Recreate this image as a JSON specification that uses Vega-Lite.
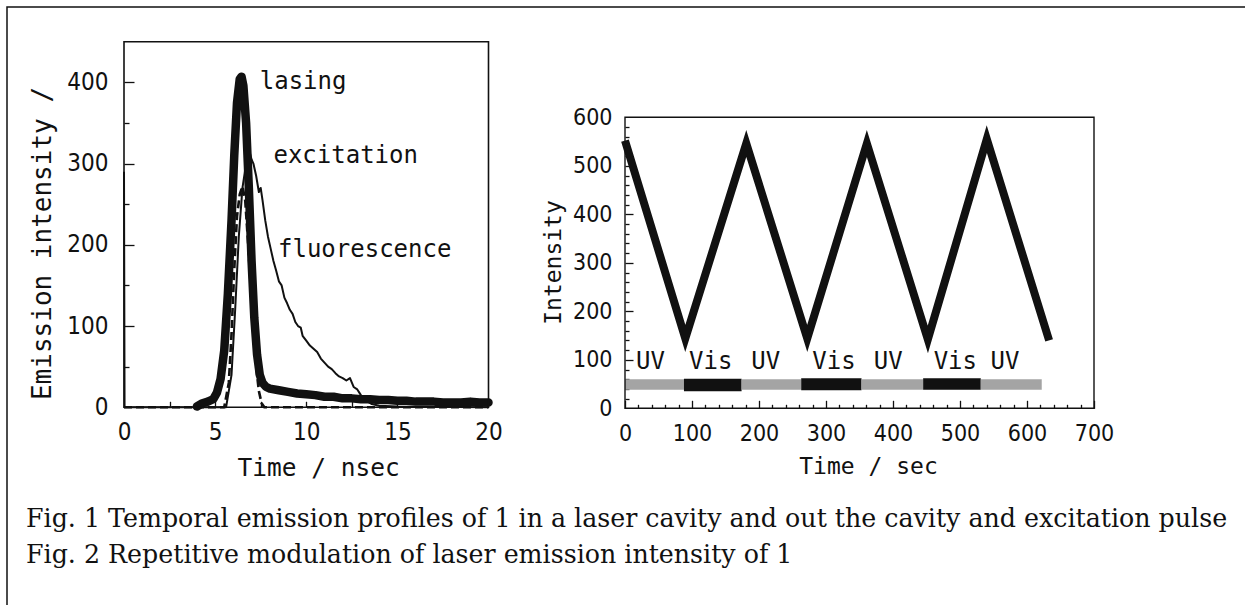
{
  "$schema": "https://vega.github.io/schema/vega-lite/v6.json",
  "width": 1238,
  "height": 598,
  "autosize": {"type": "none"},
  "padding": {"left": 7, "top": 7, "right": 0, "bottom": 0},
  "background": "white",
  "config": {
    "view": {"stroke": null},
    "axis": {"grid": false, "domain": false, "labelColor": "#111111", "titleColor": "#111111", "tickColor": "#111111", "labelFont": "DejaVu Sans Condensed", "titleFont": "DejaVu Sans Mono", "titleFontWeight": "normal", "labelFlush": false, "labelOverlap": false, "tickWidth": 1.3}
  },
  "datasets": {
    "emission": [
      {"s": "excitation", "t": 0, "v": 0}, {"s": "excitation", "t": 5.5, "v": 0}, {"s": "excitation", "t": 5.75, "v": 30}, {"s": "excitation", "t": 5.9, "v": 90}, {"s": "excitation", "t": 6.05, "v": 170}, {"s": "excitation", "t": 6.2, "v": 235}, {"s": "excitation", "t": 6.35, "v": 262}, {"s": "excitation", "t": 6.5, "v": 272}, {"s": "excitation", "t": 6.65, "v": 255}, {"s": "excitation", "t": 6.8, "v": 205}, {"s": "excitation", "t": 6.95, "v": 150}, {"s": "excitation", "t": 7.1, "v": 95}, {"s": "excitation", "t": 7.25, "v": 50}, {"s": "excitation", "t": 7.4, "v": 20}, {"s": "excitation", "t": 7.55, "v": 5}, {"s": "excitation", "t": 7.7, "v": 0}, {"s": "excitation", "t": 20, "v": 0},
      {"s": "fluorescence", "t": 0, "v": 290}, {"s": "fluorescence", "t": 0.03, "v": 0}, {"s": "fluorescence", "t": 5.6, "v": 0}, {"s": "fluorescence", "t": 5.9, "v": 40}, {"s": "fluorescence", "t": 6.1, "v": 120}, {"s": "fluorescence", "t": 6.3, "v": 210}, {"s": "fluorescence", "t": 6.5, "v": 270}, {"s": "fluorescence", "t": 6.7, "v": 300}, {"s": "fluorescence", "t": 6.85, "v": 318}, {"s": "fluorescence", "t": 7.0, "v": 305}, {"s": "fluorescence", "t": 7.1, "v": 300}, {"s": "fluorescence", "t": 7.25, "v": 285}, {"s": "fluorescence", "t": 7.4, "v": 265}, {"s": "fluorescence", "t": 7.5, "v": 270}, {"s": "fluorescence", "t": 7.6, "v": 255}, {"s": "fluorescence", "t": 7.75, "v": 230}, {"s": "fluorescence", "t": 7.9, "v": 210}, {"s": "fluorescence", "t": 8.05, "v": 195}, {"s": "fluorescence", "t": 8.2, "v": 180}, {"s": "fluorescence", "t": 8.35, "v": 168}, {"s": "fluorescence", "t": 8.5, "v": 155}, {"s": "fluorescence", "t": 8.65, "v": 150}, {"s": "fluorescence", "t": 8.8, "v": 135}, {"s": "fluorescence", "t": 8.95, "v": 128}, {"s": "fluorescence", "t": 9.1, "v": 120}, {"s": "fluorescence", "t": 9.25, "v": 115}, {"s": "fluorescence", "t": 9.4, "v": 105}, {"s": "fluorescence", "t": 9.55, "v": 100}, {"s": "fluorescence", "t": 9.7, "v": 98}, {"s": "fluorescence", "t": 9.8, "v": 88}, {"s": "fluorescence", "t": 10.0, "v": 82}, {"s": "fluorescence", "t": 10.2, "v": 76}, {"s": "fluorescence", "t": 10.4, "v": 72}, {"s": "fluorescence", "t": 10.6, "v": 68}, {"s": "fluorescence", "t": 10.8, "v": 60}, {"s": "fluorescence", "t": 11.0, "v": 55}, {"s": "fluorescence", "t": 11.2, "v": 50}, {"s": "fluorescence", "t": 11.4, "v": 47}, {"s": "fluorescence", "t": 11.6, "v": 42}, {"s": "fluorescence", "t": 11.8, "v": 38}, {"s": "fluorescence", "t": 12.0, "v": 36}, {"s": "fluorescence", "t": 12.2, "v": 33}, {"s": "fluorescence", "t": 12.4, "v": 36}, {"s": "fluorescence", "t": 12.6, "v": 25}, {"s": "fluorescence", "t": 12.8, "v": 22}, {"s": "fluorescence", "t": 13.0, "v": 15}, {"s": "fluorescence", "t": 13.3, "v": 8}, {"s": "fluorescence", "t": 13.6, "v": 4}, {"s": "fluorescence", "t": 14.0, "v": 2}, {"s": "fluorescence", "t": 15.0, "v": 1}, {"s": "fluorescence", "t": 20, "v": 0},
      {"s": "lasing", "t": 4.0, "v": 1}, {"s": "lasing", "t": 4.3, "v": 5}, {"s": "lasing", "t": 4.6, "v": 7}, {"s": "lasing", "t": 4.9, "v": 10}, {"s": "lasing", "t": 5.1, "v": 18}, {"s": "lasing", "t": 5.3, "v": 35}, {"s": "lasing", "t": 5.5, "v": 70}, {"s": "lasing", "t": 5.7, "v": 140}, {"s": "lasing", "t": 5.9, "v": 230}, {"s": "lasing", "t": 6.05, "v": 310}, {"s": "lasing", "t": 6.2, "v": 375}, {"s": "lasing", "t": 6.35, "v": 404}, {"s": "lasing", "t": 6.45, "v": 407}, {"s": "lasing", "t": 6.55, "v": 396}, {"s": "lasing", "t": 6.7, "v": 350}, {"s": "lasing", "t": 6.85, "v": 270}, {"s": "lasing", "t": 7.0, "v": 180}, {"s": "lasing", "t": 7.15, "v": 110}, {"s": "lasing", "t": 7.3, "v": 65}, {"s": "lasing", "t": 7.45, "v": 40}, {"s": "lasing", "t": 7.6, "v": 30}, {"s": "lasing", "t": 7.8, "v": 25}, {"s": "lasing", "t": 8.0, "v": 23}, {"s": "lasing", "t": 8.5, "v": 21}, {"s": "lasing", "t": 9.0, "v": 19}, {"s": "lasing", "t": 9.5, "v": 17}, {"s": "lasing", "t": 10.0, "v": 16}, {"s": "lasing", "t": 10.5, "v": 15}, {"s": "lasing", "t": 11.0, "v": 13}, {"s": "lasing", "t": 11.5, "v": 13}, {"s": "lasing", "t": 12.0, "v": 11}, {"s": "lasing", "t": 12.5, "v": 11}, {"s": "lasing", "t": 13.0, "v": 10}, {"s": "lasing", "t": 13.5, "v": 10}, {"s": "lasing", "t": 14.0, "v": 9}, {"s": "lasing", "t": 14.5, "v": 9}, {"s": "lasing", "t": 15.0, "v": 8}, {"s": "lasing", "t": 15.5, "v": 8}, {"s": "lasing", "t": 16.0, "v": 7}, {"s": "lasing", "t": 16.5, "v": 7}, {"s": "lasing", "t": 17.0, "v": 7}, {"s": "lasing", "t": 17.5, "v": 6}, {"s": "lasing", "t": 18.0, "v": 6}, {"s": "lasing", "t": 18.5, "v": 6}, {"s": "lasing", "t": 19.0, "v": 7}, {"s": "lasing", "t": 19.5, "v": 6}, {"s": "lasing", "t": 20.0, "v": 6}
    ],
    "labels1": [
      {"label": "lasing", "t": 7.45, "v": 400},
      {"label": "excitation", "t": 8.2, "v": 309},
      {"label": "fluorescence", "t": 8.45, "v": 194}
    ],
    "zigzag": [
      {"t": 0, "v": 552}, {"t": 90, "v": 144}, {"t": 181, "v": 546}, {"t": 272, "v": 144}, {"t": 361, "v": 546}, {"t": 452, "v": 142}, {"t": 540, "v": 555}, {"t": 633, "v": 140}
    ],
    "periods": [
      {"k": "UV", "start": 0, "end": 88, "lo": 38, "hi": 60},
      {"k": "Vis", "start": 88, "end": 174, "lo": 35, "hi": 61},
      {"k": "UV", "start": 174, "end": 263, "lo": 38, "hi": 60},
      {"k": "Vis", "start": 263, "end": 353, "lo": 37, "hi": 62},
      {"k": "UV", "start": 353, "end": 445, "lo": 38, "hi": 60},
      {"k": "Vis", "start": 445, "end": 531, "lo": 38, "hi": 62},
      {"k": "UV", "start": 531, "end": 622, "lo": 38, "hi": 60}
    ],
    "labels2": [
      {"label": "UV", "t": 38, "v": 95}, {"label": "Vis", "t": 128, "v": 95}, {"label": "UV", "t": 210, "v": 95},
      {"label": "Vis", "t": 312, "v": 95}, {"label": "UV", "t": 393, "v": 95}, {"label": "Vis", "t": 493, "v": 95}, {"label": "UV", "t": 567, "v": 95}
    ],
    "caption": [
      {"line": 1, "text": "Fig. 1 Temporal emission profiles of 1 in a laser cavity and out the cavity and excitation pulse"},
      {"line": 2, "text": "Fig. 2 Repetitive modulation of laser emission intensity of 1"}
    ]
  },
  "layer": [
    {
      "data": {"values": [{}]},
      "mark": {"type": "rect", "fill": "transparent", "stroke": "#111111", "strokeWidth": 1.5},
      "encoding": {
        "x": {"datum": 0, "type": "quantitative", "scale": {"domain": [0, 1], "range": [0, 1300], "nice": false, "zero": false}, "axis": null},
        "x2": {"datum": 1},
        "y": {"datum": 0, "type": "quantitative", "scale": {"domain": [0, 1], "range": [0, 700], "nice": false, "zero": false}, "axis": null},
        "y2": {"datum": 1}
      }
    },
    {
      "data": {"name": "caption"},
      "mark": {"type": "text", "align": "left", "baseline": "alphabetic", "font": "DejaVu Serif", "fontSize": 25.3, "color": "#111111"},
      "encoding": {
        "x": {"datum": 0, "type": "quantitative", "scale": {"domain": [0, 1], "range": [19, 1200], "nice": false, "zero": false}, "axis": null},
        "y": {"field": "line", "type": "quantitative", "scale": {"domain": [1, 2], "range": [520, 556], "nice": false, "zero": false}, "axis": null},
        "text": {"field": "text"}
      }
    },
    {
      "data": {"name": "emission"},
      "transform": [{"filter": "datum.s === 'fluorescence'"}],
      "mark": {"type": "line", "color": "#111111", "strokeWidth": 2, "strokeJoin": "round"},
      "encoding": {
        "x": {"field": "t", "type": "quantitative", "scale": {"domain": [0, 20], "range": [117, 481.5], "nice": false, "zero": false},
          "axis": {"orient": "bottom", "offset": -197.7, "values": [0, 5, 10, 15, 20], "ticks": false, "labelFontSize": 24, "labelPadding": 13, "title": "Time / nsec", "titleFontSize": 24.5, "titleX": 311, "titleY": 61, "titleBaseline": "middle", "titleAlign": "center"}},
        "y": {"field": "v", "type": "quantitative", "scale": {"domain": [0, 450], "range": [400.3, 34.7], "nice": false, "zero": false},
          "axis": {"orient": "left", "offset": -117, "values": [0, 100, 200, 300, 400], "ticks": false, "labelFontSize": 24, "labelPadding": 16, "title": "Emission intensity /", "titleFontSize": 26, "titleX": -82, "titleY": 236, "titleAngle": 270, "titleBaseline": "middle", "titleAlign": "center"}}
      }
    },
    {
      "data": {"name": "emission"},
      "transform": [{"filter": "datum.s === 'excitation'"}],
      "mark": {"type": "line", "color": "#111111", "strokeWidth": 2.6, "strokeDash": [8, 4], "strokeJoin": "round"},
      "encoding": {
        "x": {"field": "t", "type": "quantitative", "scale": {"domain": [0, 20], "range": [117, 481.5], "nice": false, "zero": false}, "axis": null},
        "y": {"field": "v", "type": "quantitative", "scale": {"domain": [0, 450], "range": [400.3, 34.7], "nice": false, "zero": false}, "axis": null}
      }
    },
    {
      "data": {"name": "emission"},
      "transform": [{"filter": "datum.s === 'lasing'"}],
      "mark": {"type": "line", "color": "#111111", "strokeWidth": 8.5, "strokeJoin": "round", "strokeCap": "round"},
      "encoding": {
        "x": {"field": "t", "type": "quantitative", "scale": {"domain": [0, 20], "range": [117, 481.5], "nice": false, "zero": false}, "axis": null},
        "y": {"field": "v", "type": "quantitative", "scale": {"domain": [0, 450], "range": [400.3, 34.7], "nice": false, "zero": false}, "axis": null}
      }
    },
    {
      "data": {"values": [{}]},
      "mark": {"type": "rect", "fill": "transparent", "stroke": "#111111", "strokeWidth": 1.6},
      "encoding": {
        "x": {"datum": 0, "type": "quantitative", "scale": {"domain": [0, 20], "range": [117, 481.5], "nice": false, "zero": false},
          "axis": {"orient": "bottom", "offset": -197.7, "values": [2.5, 5, 7.5, 10, 12.5, 15, 17.5], "labels": false, "tickSize": -6, "title": null}},
        "x2": {"datum": 20},
        "y": {"datum": 0, "type": "quantitative", "scale": {"domain": [0, 450], "range": [400.3, 34.7], "nice": false, "zero": false},
          "axis": {"orient": "left", "offset": -117, "values": [100, 200, 300, 400], "labels": false, "tickSize": -10, "title": null}},
        "y2": {"datum": 450}
      }
    },
    {
      "data": {"name": "labels1"},
      "mark": {"type": "text", "align": "left", "baseline": "middle", "font": "DejaVu Sans Mono", "fontSize": 24, "color": "#111111"},
      "encoding": {
        "x": {"field": "t", "type": "quantitative", "scale": {"domain": [0, 20], "range": [117, 481.5], "nice": false, "zero": false}, "axis": null},
        "y": {"field": "v", "type": "quantitative", "scale": {"domain": [0, 450], "range": [400.3, 34.7], "nice": false, "zero": false},
          "axis": {"orient": "left", "offset": -117, "values": [50, 150, 250, 350], "labels": false, "tickSize": -5, "title": null}},
        "text": {"field": "label"}
      }
    },
    {
      "data": {"name": "periods"},
      "mark": {"type": "rect"},
      "encoding": {
        "x": {"field": "start", "type": "quantitative", "scale": {"domain": [0, 700], "range": [618, 1087], "nice": false, "zero": false},
          "axis": {"orient": "bottom", "offset": -196.7, "values": [0, 100, 200, 300, 400, 500, 600, 700], "ticks": false, "labelFontSize": 23, "labelPadding": 14, "title": "Time / sec", "titleFontSize": 23, "titleX": 861, "titleY": 58, "titleBaseline": "middle", "titleAlign": "center"}},
        "x2": {"field": "end"},
        "y": {"field": "lo", "type": "quantitative", "scale": {"domain": [0, 600], "range": [401.3, 110.3], "nice": false, "zero": false},
          "axis": {"orient": "left", "offset": -618, "values": [0, 100, 200, 300, 400, 500, 600], "ticks": false, "labelFontSize": 23, "labelPadding": 13, "title": "Intensity", "titleFontSize": 23, "titleX": -72, "titleY": 255, "titleAngle": 270, "titleBaseline": "middle", "titleAlign": "center"}},
        "y2": {"field": "hi"},
        "color": {"field": "k", "type": "nominal", "scale": {"domain": ["UV", "Vis"], "range": ["#a4a4a4", "#111111"]}, "legend": null}
      }
    },
    {
      "data": {"name": "zigzag"},
      "mark": {"type": "line", "color": "#111111", "strokeWidth": 8, "strokeJoin": "miter", "strokeMiterLimit": 10},
      "encoding": {
        "x": {"field": "t", "type": "quantitative", "scale": {"domain": [0, 700], "range": [618, 1087], "nice": false, "zero": false},
          "axis": {"orient": "bottom", "offset": -196.7, "values": [0, 100, 200, 300, 400, 500, 600, 700], "labels": false, "tickSize": -8, "title": null}},
        "y": {"field": "v", "type": "quantitative", "scale": {"domain": [0, 600], "range": [401.3, 110.3], "nice": false, "zero": false},
          "axis": {"orient": "left", "offset": -618, "values": [100, 200, 300, 400, 500], "labels": false, "tickSize": -8, "title": null}}
      }
    },
    {
      "data": {"name": "labels2"},
      "mark": {"type": "text", "align": "center", "baseline": "middle", "font": "DejaVu Sans Mono", "fontSize": 24, "color": "#111111"},
      "encoding": {
        "x": {"field": "t", "type": "quantitative", "scale": {"domain": [0, 700], "range": [618, 1087], "nice": false, "zero": false},
          "axis": {"orient": "bottom", "offset": -196.7, "values": [20, 40, 60, 80, 120, 140, 160, 180, 220, 240, 260, 280, 320, 340, 360, 380, 420, 440, 460, 480, 520, 540, 560, 580, 620, 640, 660, 680], "labels": false, "tickSize": -4, "title": null}},
        "y": {"field": "v", "type": "quantitative", "scale": {"domain": [0, 600], "range": [401.3, 110.3], "nice": false, "zero": false},
          "axis": {"orient": "left", "offset": -618, "values": [20, 40, 60, 80, 120, 140, 160, 180, 220, 240, 260, 280, 320, 340, 360, 380, 420, 440, 460, 480, 520, 540, 560, 580], "labels": false, "tickSize": -4, "title": null}},
        "text": {"field": "label"}
      }
    },
    {
      "data": {"values": [{}]},
      "mark": {"type": "rect", "fill": "transparent", "stroke": "#111111", "strokeWidth": 1.4},
      "encoding": {
        "x": {"datum": 0, "type": "quantitative", "scale": {"domain": [0, 700], "range": [618, 1087], "nice": false, "zero": false}, "axis": null},
        "x2": {"datum": 700},
        "y": {"datum": 0, "type": "quantitative", "scale": {"domain": [0, 600], "range": [401.3, 110.3], "nice": false, "zero": false}, "axis": null},
        "y2": {"datum": 600}
      }
    }
  ],
  "resolve": {
    "scale": {"x": "independent", "y": "independent", "color": "independent"},
    "axis": {"x": "independent", "y": "independent"}
  }
}
